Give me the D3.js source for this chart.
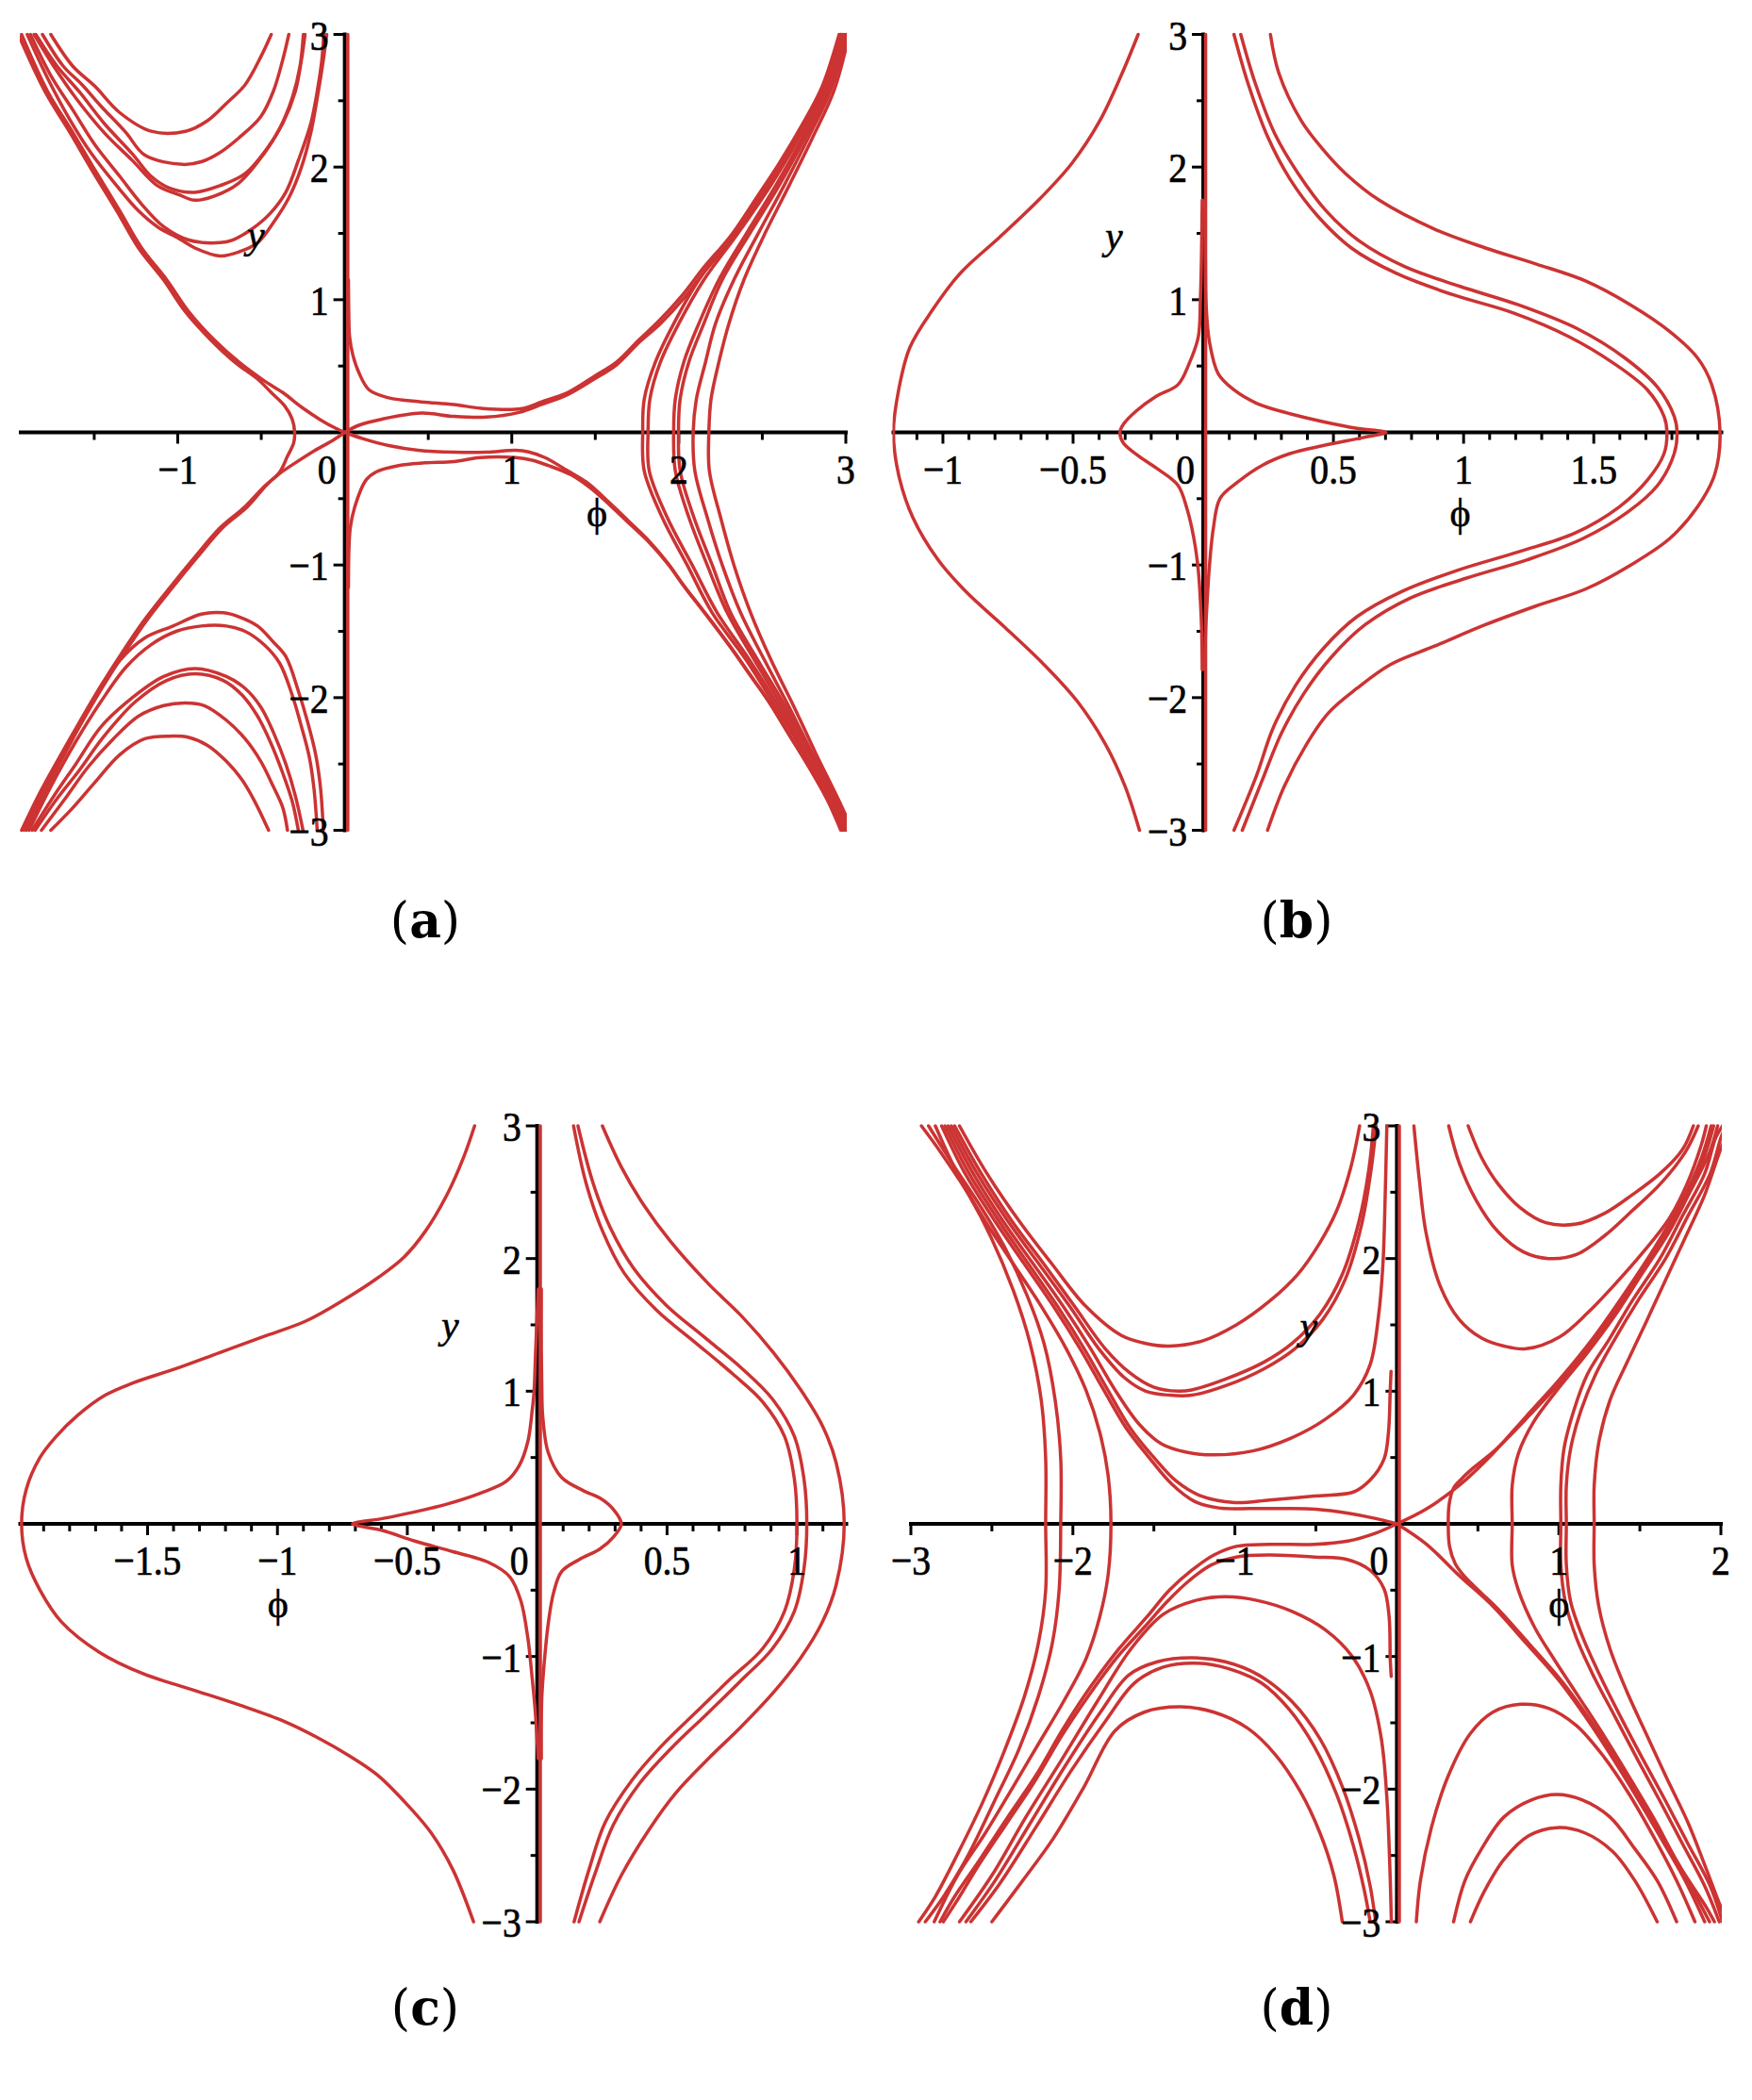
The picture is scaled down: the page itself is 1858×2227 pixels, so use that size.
<!DOCTYPE html>
<html><head><meta charset="utf-8">
<script src="https://cdn.jsdelivr.net/npm/d3@7"></script>
<style>body{margin:0;background:#fff}</style>
</head><body>
<svg id="chart" width="1858" height="2227" xmlns="http://www.w3.org/2000/svg"></svg>
<script>
// ---------------- shared tick data ----------------
const yMajor = [-3,-2,-1,1,2,3];
const yLabels = ["\u22123","\u22122","\u22121","1","2","3"];
const yMinor = [-2.5,-1.5,-0.5,0.5,1.5,2.5];

const aXMajor = [-1,0,1,2,3];
const aXLabels = ["\u22121","0","1","2","3"];
const aXMinor = [-1.5,-0.5,0.5,1.5,2.5];
const bXMajor = [-1,-0.5,0,0.5,1,1.5];
const bXLabels = ["\u22121","\u22120.5","0","0.5","1","1.5"];
const cXMajor = [-1.5,-1,-0.5,0,0.5,1];
const cXLabels = ["\u22121.5","\u22121","\u22120.5","0","0.5","1"];
const dXMajor = [-3,-2,-1,0,1,2];
const dXLabels = ["\u22123","\u22122","\u22121","0","1","2"];
const dXMinor = [-2.5,-1.5,-0.5,0.5,1.5];

// ---------------- panel (a) curves [phi, y] ----------------
const a_axisRed = [[0.018,3],[0.018,-3]];
const a_U1 = [[-1.76,3.0],[-1.628,2.76],[-1.497,2.61],[-1.347,2.41],[-1.159,2.27],[-0.953,2.27],[-0.822,2.35],[-0.709,2.48],[-0.597,2.62],[-0.503,2.83],[-0.44,3.0]];
const a_U2 = [[-1.81,3.0],[-1.685,2.76],[-1.572,2.62],[-1.46,2.46],[-1.31,2.26],[-1.197,2.09],[-0.972,2.02],[-0.859,2.04],[-0.747,2.11],[-0.634,2.22],[-0.503,2.38],[-0.428,2.57],[-0.371,2.81],[-0.335,3.0]];
const a_U3a = [[-1.85,3.0],[-1.722,2.76],[-1.591,2.57],[-1.441,2.33],[-1.272,2.10],[-1.159,1.93],[-1.047,1.84],[-0.897,1.81],[-0.747,1.86],[-0.597,1.95],[-0.465,2.14],[-0.371,2.33],[-0.296,2.57],[-0.259,2.81],[-0.238,3.0]];
const a_U3b = [[-1.86,3.0],[-1.732,2.74],[-1.61,2.52],[-1.441,2.26],[-1.272,2.05],[-1.122,1.86],[-0.991,1.79],[-0.897,1.75],[-0.784,1.78],[-0.634,1.88],[-0.484,2.10],[-0.39,2.29],[-0.315,2.52],[-0.268,2.76],[-0.248,3.0]];
const a_U4a = [[-1.882,3.0],[-1.76,2.69],[-1.628,2.43],[-1.497,2.17],[-1.347,1.93],[-1.216,1.72],[-1.084,1.55],[-0.934,1.45],[-0.747,1.43],[-0.672,1.45],[-0.559,1.53],[-0.447,1.65],[-0.353,1.81],[-0.278,2.05],[-0.203,2.33],[-0.165,2.57],[-0.137,2.81],[-0.126,3.0]];
const a_U4b = [[-1.901,3.0],[-1.779,2.67],[-1.647,2.36],[-1.516,2.10],[-1.366,1.86],[-1.235,1.67],[-1.122,1.55],[-0.991,1.46],[-0.897,1.39],[-0.747,1.33],[-0.634,1.36],[-0.522,1.43],[-0.428,1.58],[-0.334,1.77],[-0.259,2.0],[-0.203,2.26],[-0.165,2.52],[-0.128,2.81],[-0.108,3.0]];
const a_S1 = [[-1.935,3.0],[-1.779,2.57],[-1.628,2.26],[-1.497,1.98],[-1.347,1.67],[-1.216,1.39],[-1.066,1.15],[-0.934,0.91],[-0.784,0.70],[-0.634,0.53],[-0.484,0.39],[-0.371,0.30],[-0.259,0.19],[-0.146,0.095],[-0.053,0.03],[0,0]];
const a_S2 = [[-1.955,3.0],[-1.795,2.57],[-1.645,2.26],[-1.515,1.98],[-1.365,1.67],[-1.235,1.39],[-1.085,1.15],[-0.955,0.91],[-0.805,0.70],[-0.66,0.53],[-0.52,0.40],[-0.44,0.30],[-0.36,0.20],[-0.315,0.10],[-0.30,0],[-0.306,-0.08],[-0.343,-0.18],[-0.39,-0.30],[-0.484,-0.41],[-0.597,-0.56],[-0.747,-0.72],[-0.897,-0.94],[-1.047,-1.17],[-1.197,-1.41],[-1.328,-1.65],[-1.46,-1.91],[-1.591,-2.19],[-1.722,-2.48],[-1.835,-2.74],[-1.935,-3.0]];
const a_S3 = [[0,0],[-0.071,-0.06],[-0.184,-0.14],[-0.296,-0.23],[-0.40,-0.32],[-0.47,-0.40],[-0.582,-0.56],[-0.732,-0.72],[-0.882,-0.94],[-1.032,-1.17],[-1.182,-1.41],[-1.313,-1.65],[-1.445,-1.91],[-1.576,-2.19],[-1.707,-2.48],[-1.82,-2.74],[-1.92,-3.0]];
const a_L1a = [[-1.905,-3.0],[-1.779,-2.67],[-1.628,-2.31],[-1.497,-2.0],[-1.347,-1.72],[-1.197,-1.55],[-1.028,-1.46],[-0.859,-1.37],[-0.728,-1.36],[-0.634,-1.39],[-0.522,-1.46],[-0.428,-1.58],[-0.353,-1.69],[-0.278,-1.95],[-0.221,-2.19],[-0.174,-2.43],[-0.146,-2.67],[-0.128,-3.0]];
const a_L1b = [[-1.89,-3.0],[-1.76,-2.67],[-1.61,-2.33],[-1.46,-2.03],[-1.31,-1.77],[-1.159,-1.60],[-1.009,-1.50],[-0.859,-1.46],[-0.709,-1.46],[-0.597,-1.50],[-0.484,-1.60],[-0.39,-1.74],[-0.315,-1.98],[-0.259,-2.22],[-0.212,-2.45],[-0.184,-2.69],[-0.165,-3.0]];
const a_L2a = [[-1.872,-3.0],[-1.741,-2.74],[-1.61,-2.50],[-1.46,-2.22],[-1.272,-2.0],[-1.084,-1.84],[-0.897,-1.78],[-0.709,-1.84],[-0.597,-1.93],[-0.503,-2.07],[-0.428,-2.26],[-0.353,-2.50],[-0.296,-2.74],[-0.25,-3.0]];
const a_L2b = [[-1.854,-3.0],[-1.722,-2.76],[-1.591,-2.55],[-1.441,-2.29],[-1.253,-2.03],[-1.066,-1.87],[-0.897,-1.82],[-0.728,-1.87],[-0.615,-1.98],[-0.522,-2.14],[-0.447,-2.33],[-0.371,-2.57],[-0.315,-2.78],[-0.278,-3.0]];
const a_L3 = [[-1.816,-3.0],[-1.685,-2.78],[-1.535,-2.52],[-1.385,-2.31],[-1.235,-2.14],[-1.084,-2.06],[-0.953,-2.04],[-0.841,-2.06],[-0.709,-2.17],[-0.597,-2.31],[-0.503,-2.48],[-0.428,-2.67],[-0.371,-2.83],[-0.343,-3.0]];
const a_L4 = [[-1.76,-3.0],[-1.628,-2.83],[-1.497,-2.64],[-1.347,-2.43],[-1.197,-2.31],[-1.047,-2.29],[-0.934,-2.30],[-0.822,-2.36],[-0.709,-2.48],[-0.615,-2.62],[-0.54,-2.78],[-0.456,-3.0]];
const a_C1 = [[0.022,1.15],[0.024,0.9],[0.029,0.72],[0.049,0.58],[0.088,0.44],[0.146,0.32],[0.263,0.26],[0.458,0.23],[0.653,0.21],[0.828,0.18],[1.062,0.18],[1.179,0.23],[1.335,0.30],[1.491,0.42],[1.628,0.53],[1.764,0.70],[1.881,0.84],[2.018,1.03],[2.154,1.25],[2.31,1.48],[2.466,1.77],[2.602,2.03],[2.739,2.32],[2.856,2.60],[2.96,3.0]];
const a_C2 = [[0,0],[0.088,0.055],[0.224,0.10],[0.458,0.145],[0.653,0.12],[0.848,0.115],[1.043,0.15],[1.179,0.21],[1.335,0.285],[1.491,0.40],[1.628,0.51],[1.764,0.68],[1.89,0.82],[2.03,1.01],[2.165,1.23],[2.32,1.46],[2.476,1.75],[2.612,2.01],[2.749,2.30],[2.866,2.58],[2.97,3.0]];
const a_C3 = [[0.022,-1.17],[0.025,-0.88],[0.033,-0.72],[0.058,-0.57],[0.127,-0.36],[0.185,-0.30],[0.322,-0.25],[0.478,-0.23],[0.653,-0.22],[0.809,-0.19],[1.023,-0.19],[1.121,-0.21],[1.218,-0.25],[1.355,-0.32],[1.472,-0.42],[1.589,-0.55],[1.706,-0.69],[1.823,-0.83],[1.94,-1.0],[2.037,-1.17],[2.154,-1.36],[2.31,-1.62],[2.427,-1.83],[2.544,-2.04],[2.661,-2.28],[2.778,-2.52],[2.895,-2.78],[2.98,-3.0]];
const a_C4 = [[0,0],[0.107,-0.047],[0.263,-0.10],[0.439,-0.135],[0.653,-0.15],[0.848,-0.15],[1.023,-0.135],[1.101,-0.147],[1.199,-0.19],[1.335,-0.29],[1.452,-0.38],[1.58,-0.525],[1.70,-0.67],[1.815,-0.81],[1.93,-0.98],[2.027,-1.15],[2.144,-1.34],[2.30,-1.60],[2.417,-1.81],[2.534,-2.02],[2.651,-2.26],[2.768,-2.50],[2.885,-2.76],[2.97,-3.0]];
// right-hand family: y levels and phi positions of each contour at those levels
const aRightY = [3.0,2.58,2.22,1.86,1.51,1.15,0.82,0.53,0.25,0,-0.29,-0.64,-1.0,-1.36,-1.71,-2.07,-2.42,-2.78,-3.0];
const a_R1 = [2.97,2.86,2.71,2.53,2.34,2.12,1.97,1.86,1.793,1.784,1.793,1.90,2.05,2.20,2.40,2.58,2.75,2.91,2.99];
const a_R2 = [2.98,2.87,2.72,2.55,2.36,2.15,2.00,1.89,1.827,1.816,1.823,1.93,2.08,2.23,2.42,2.60,2.76,2.92,3.0];
const a_R3 = [2.99,2.885,2.74,2.58,2.41,2.24,2.12,2.03,1.979,1.969,1.979,2.06,2.17,2.29,2.45,2.62,2.78,2.93,3.01];
const a_R4 = [3.0,2.895,2.755,2.60,2.43,2.26,2.15,2.06,2.008,1.998,2.008,2.09,2.20,2.31,2.47,2.64,2.79,2.94,3.02];
const a_R5 = [3.01,2.91,2.775,2.63,2.48,2.33,2.22,2.16,2.105,2.086,2.096,2.17,2.26,2.37,2.51,2.66,2.80,2.95,3.03];
const a_R6 = [3.02,2.93,2.80,2.66,2.52,2.39,2.30,2.24,2.193,2.18,2.183,2.25,2.33,2.43,2.55,2.69,2.82,2.96,3.04];

// ---------------- panel (b) curves ----------------
const b_axisRed = [[0.009,3],[0.009,-3]];
const b_left = [[-0.25,3.0],[-0.311,2.71],[-0.397,2.35],[-0.504,2.03],[-0.633,1.75],[-0.783,1.47],[-0.933,1.20],[-1.041,0.92],[-1.127,0.64],[-1.17,0.32],[-1.19,0],[-1.17,-0.32],[-1.116,-0.64],[-1.019,-0.96],[-0.912,-1.20],[-0.762,-1.47],[-0.612,-1.75],[-0.483,-2.03],[-0.376,-2.35],[-0.30,-2.67],[-0.245,-3.0]];
const b_inner = [[0.118,3.0],[0.172,2.63],[0.247,2.23],[0.333,1.91],[0.44,1.63],[0.569,1.39],[0.74,1.20],[0.955,1.04],[1.191,0.90],[1.406,0.72],[1.577,0.52],[1.706,0.32],[1.77,0.12],[1.781,0],[1.77,-0.16],[1.706,-0.36],[1.599,-0.56],[1.427,-0.76],[1.212,-0.90],[0.976,-1.04],[0.762,-1.20],[0.59,-1.39],[0.461,-1.63],[0.354,-1.91],[0.268,-2.23],[0.204,-2.59],[0.118,-3.0]];
const b_mid = [[0.144,3.0],[0.20,2.63],[0.275,2.25],[0.365,1.95],[0.472,1.67],[0.601,1.44],[0.773,1.25],[0.987,1.10],[1.212,0.96],[1.438,0.78],[1.62,0.56],[1.745,0.34],[1.809,0.12],[1.82,0],[1.809,-0.16],[1.745,-0.40],[1.631,-0.60],[1.459,-0.80],[1.245,-0.96],[1.009,-1.10],[0.794,-1.25],[0.622,-1.45],[0.494,-1.69],[0.386,-1.97],[0.30,-2.27],[0.225,-2.63],[0.15,-3.0]];
const b_outer = [[0.258,3.0],[0.29,2.71],[0.376,2.35],[0.461,2.13],[0.547,1.95],[0.676,1.75],[0.891,1.53],[1.084,1.39],[1.277,1.27],[1.47,1.14],[1.642,0.96],[1.792,0.76],[1.899,0.56],[1.953,0.36],[1.985,0],[1.964,-0.32],[1.899,-0.56],[1.792,-0.80],[1.642,-1.0],[1.47,-1.18],[1.277,-1.31],[1.084,-1.45],[0.891,-1.61],[0.719,-1.75],[0.59,-1.93],[0.483,-2.11],[0.397,-2.35],[0.311,-2.67],[0.247,-3.0]];
const b_spikeL = [[-0.004,1.75],[-0.007,1.3],[-0.011,1.0],[-0.019,0.72],[-0.054,0.52],[-0.097,0.36],[-0.182,0.27],[-0.258,0.16],[-0.307,0.06],[-0.32,0],[-0.307,-0.08],[-0.247,-0.18],[-0.172,-0.28],[-0.097,-0.40],[-0.062,-0.58],[-0.036,-0.80],[-0.019,-1.04],[-0.011,-1.27],[-0.006,-1.5],[-0.004,-1.79]];
const b_spikeR = [[0.006,1.75],[0.008,1.3],[0.011,0.96],[0.024,0.68],[0.058,0.44],[0.118,0.32],[0.204,0.22],[0.333,0.14],[0.461,0.08],[0.59,0.03],[0.702,0],[0.612,-0.04],[0.461,-0.10],[0.333,-0.16],[0.225,-0.25],[0.129,-0.38],[0.064,-0.50],[0.039,-0.72],[0.024,-1.0],[0.015,-1.27],[0.009,-1.5],[0.006,-1.79]];

// ---------------- panel (c) curves ----------------
const c_axisRed = [[0.012,3],[0.012,-3]];
const c_left = [[-0.241,3.0],[-0.282,2.77],[-0.345,2.49],[-0.429,2.21],[-0.513,2.01],[-0.617,1.85],[-0.743,1.69],[-0.889,1.53],[-1.056,1.41],[-1.224,1.29],[-1.391,1.17],[-1.559,1.06],[-1.663,0.97],[-1.768,0.82],[-1.851,0.66],[-1.914,0.50],[-1.967,0.26],[-1.985,0],[-1.967,-0.26],[-1.914,-0.50],[-1.831,-0.74],[-1.684,-0.97],[-1.517,-1.13],[-1.328,-1.25],[-1.14,-1.37],[-0.973,-1.49],[-0.847,-1.61],[-0.722,-1.75],[-0.617,-1.89],[-0.513,-2.09],[-0.408,-2.33],[-0.324,-2.61],[-0.245,-3.0]];
const c_inner = [[0.14,3.0],[0.188,2.57],[0.251,2.21],[0.335,1.89],[0.46,1.61],[0.607,1.37],[0.753,1.13],[0.868,0.92],[0.952,0.66],[0.99,0.34],[1.0,0],[0.99,-0.34],[0.952,-0.66],[0.868,-0.94],[0.743,-1.17],[0.617,-1.41],[0.481,-1.67],[0.366,-1.93],[0.262,-2.25],[0.199,-2.61],[0.142,-3.0]];
const c_mid = [[0.157,3.0],[0.215,2.57],[0.282,2.23],[0.37,1.93],[0.496,1.65],[0.642,1.41],[0.789,1.17],[0.906,0.94],[0.99,0.66],[1.027,0.34],[1.038,0],[1.027,-0.34],[0.99,-0.66],[0.906,-0.94],[0.78,-1.19],[0.655,-1.43],[0.517,-1.69],[0.397,-1.95],[0.293,-2.27],[0.224,-2.63],[0.161,-3.0]];
const c_outer = [[0.251,3.0],[0.324,2.69],[0.408,2.41],[0.513,2.13],[0.659,1.81],[0.785,1.57],[0.91,1.29],[1.015,1.01],[1.098,0.74],[1.151,0.46],[1.182,0],[1.151,-0.46],[1.098,-0.74],[1.015,-1.01],[0.91,-1.27],[0.785,-1.53],[0.659,-1.77],[0.533,-2.03],[0.429,-2.31],[0.324,-2.65],[0.241,-3.0]];
const c_spikeL = [[0.004,1.77],[-0.006,1.3],[-0.012,1.0],[-0.019,0.86],[-0.036,0.62],[-0.069,0.44],[-0.119,0.32],[-0.22,0.23],[-0.345,0.15],[-0.471,0.09],[-0.596,0.04],[-0.711,0],[-0.596,-0.05],[-0.471,-0.13],[-0.324,-0.21],[-0.188,-0.29],[-0.105,-0.40],[-0.063,-0.58],[-0.036,-0.86],[-0.021,-1.13],[-0.008,-1.4],[0.004,-1.77]];
const c_spikeR = [[0.016,1.77],[0.016,1.3],[0.018,1.0],[0.021,0.82],[0.042,0.54],[0.094,0.35],[0.178,0.25],[0.245,0.19],[0.293,0.11],[0.324,0],[0.293,-0.10],[0.241,-0.19],[0.161,-0.27],[0.094,-0.36],[0.063,-0.52],[0.042,-0.76],[0.027,-1.05],[0.018,-1.3],[0.016,-1.5],[0.016,-1.77]];

// ---------------- panel (d) curves ----------------
const d_axisRed = [[0.015,3],[0.015,-3]];
const d_L1 = [[-2.935,3.0],[-2.815,2.80],[-2.643,2.48],[-2.505,2.16],[-2.368,1.76],[-2.264,1.36],[-2.195,0.93],[-2.168,0.49],[-2.168,0],[-2.168,-0.5],[-2.213,-0.90],[-2.299,-1.30],[-2.419,-1.70],[-2.557,-2.10],[-2.712,-2.49],[-2.849,-2.81],[-2.952,-3.0]];
const d_L2 = [[-2.891,3.0],[-2.746,2.72],[-2.574,2.40],[-2.419,2.08],[-2.282,1.72],[-2.178,1.36],[-2.109,0.93],[-2.075,0.49],[-2.075,0],[-2.085,-0.5],[-2.127,-0.90],[-2.213,-1.30],[-2.333,-1.70],[-2.488,-2.10],[-2.643,-2.49],[-2.798,-2.81],[-2.911,-3.0]];
const d_L3 = [[-2.849,3.0],[-2.712,2.64],[-2.54,2.28],[-2.368,1.96],[-2.195,1.64],[-2.041,1.32],[-1.92,1.01],[-1.834,0.69],[-1.783,0.37],[-1.765,0],[-1.783,-0.39],[-1.834,-0.70],[-1.92,-1.02],[-2.058,-1.34],[-2.213,-1.66],[-2.368,-1.98],[-2.54,-2.33],[-2.712,-2.65],[-2.856,-3.0]];
const d_S2 = [[-2.81,3.0],[-2.665,2.64],[-2.48,2.28],[-2.30,1.96],[-2.12,1.64],[-1.955,1.32],[-1.81,1.01],[-1.67,0.72],[-1.53,0.50],[-1.39,0.30],[-1.25,0.17],[-1.10,0.12],[-0.90,0.115],[-0.70,0.115],[-0.50,0.11],[-0.30,0.08],[-0.13,0.04],[0,0]];
const d_S1 = [[-2.79,3.0],[-2.64,2.64],[-2.455,2.28],[-2.275,1.96],[-2.095,1.64],[-1.93,1.32],[-1.785,1.01],[-1.645,0.72],[-1.50,0.50],[-1.36,0.32],[-1.21,0.21],[-1.0,0.16],[-0.785,0.18],[-0.509,0.21],[-0.268,0.24],[-0.165,0.33],[-0.079,0.49],[-0.052,0.69],[-0.041,1.01],[-0.036,1.15]];
const d_U3 = [[-2.77,3.0],[-2.615,2.64],[-2.43,2.28],[-2.245,1.96],[-2.06,1.64],[-1.89,1.32],[-1.74,1.01],[-1.59,0.75],[-1.45,0.60],[-1.30,0.54],[-1.129,0.52],[-0.888,0.55],[-0.647,0.65],[-0.44,0.79],[-0.268,0.97],[-0.165,1.20],[-0.114,1.56],[-0.086,1.96],[-0.072,2.48],[-0.062,3.0]];
const d_U2b = [[-2.75,3.0],[-2.59,2.64],[-2.40,2.28],[-2.21,1.96],[-2.02,1.64],[-1.84,1.32],[-1.68,1.10],[-1.55,1.0],[-1.40,0.97],[-1.266,0.97],[-1.06,1.04],[-0.819,1.17],[-0.63,1.32],[-0.458,1.54],[-0.32,1.84],[-0.217,2.26],[-0.158,2.68],[-0.128,3.0]];
const d_U2a = [[-2.73,3.0],[-2.565,2.64],[-2.375,2.28],[-2.18,1.96],[-1.99,1.64],[-1.80,1.32],[-1.65,1.14],[-1.50,1.03],[-1.35,1.0],[-1.266,1.01],[-1.06,1.09],[-0.819,1.22],[-0.647,1.36],[-0.475,1.58],[-0.337,1.88],[-0.234,2.28],[-0.172,2.68],[-0.145,3.0]];
const d_U1 = [[-2.70,3.0],[-2.53,2.64],[-2.33,2.28],[-2.13,1.96],[-1.92,1.64],[-1.70,1.42],[-1.55,1.36],[-1.404,1.34],[-1.198,1.38],[-0.991,1.50],[-0.785,1.68],[-0.613,1.88],[-0.475,2.12],[-0.372,2.36],[-0.286,2.68],[-0.23,3.0]];
const d_S3 = [[0,0],[-0.131,-0.07],[-0.303,-0.13],[-0.509,-0.155],[-0.785,-0.155],[-0.991,-0.17],[-1.129,-0.235],[-1.266,-0.35],[-1.404,-0.50],[-1.542,-0.70],[-1.714,-0.94],[-1.886,-1.22],[-2.058,-1.54],[-2.23,-1.90],[-2.402,-2.21],[-2.574,-2.53],[-2.73,-2.81],[-2.82,-3.0]];
const d_S4 = [[-0.035,-1.15],[-0.041,-1.02],[-0.048,-0.70],[-0.079,-0.49],[-0.165,-0.35],[-0.303,-0.27],[-0.509,-0.25],[-0.785,-0.235],[-0.991,-0.25],[-1.146,-0.31],[-1.284,-0.43],[-1.421,-0.59],[-1.56,-0.78],[-1.73,-1.01],[-1.90,-1.29],[-2.07,-1.60],[-2.24,-1.95],[-2.41,-2.26],[-2.58,-2.57],[-2.72,-2.85],[-2.80,-3.0]];
const d_N1 = [[-2.70,-3.0],[-2.50,-2.65],[-2.29,-2.21],[-2.07,-1.78],[-1.85,-1.34],[-1.64,-0.94],[-1.44,-0.68],[-1.25,-0.58],[-1.06,-0.55],[-0.853,-0.58],[-0.647,-0.66],[-0.44,-0.80],[-0.275,-1.0],[-0.165,-1.26],[-0.096,-1.62],[-0.062,-2.06],[-0.045,-2.53],[-0.034,-3.0]];
const d_N2a = [[-2.66,-3.0],[-2.48,-2.69],[-2.26,-2.25],[-2.045,-1.82],[-1.83,-1.42],[-1.655,-1.14],[-1.478,-1.04],[-1.266,-1.01],[-1.06,-1.04],[-0.853,-1.14],[-0.647,-1.34],[-0.475,-1.62],[-0.337,-1.98],[-0.234,-2.37],[-0.165,-2.73],[-0.131,-3.0]];
const d_N2b = [[-2.63,-3.0],[-2.45,-2.71],[-2.23,-2.29],[-2.01,-1.86],[-1.795,-1.48],[-1.62,-1.20],[-1.442,-1.08],[-1.249,-1.05],[-1.043,-1.09],[-0.836,-1.20],[-0.664,-1.40],[-0.509,-1.68],[-0.372,-2.04],[-0.268,-2.43],[-0.20,-2.77],[-0.165,-3.0]];
const d_N3 = [[-2.50,-3.0],[-2.31,-2.69],[-2.12,-2.37],[-1.93,-1.98],[-1.74,-1.56],[-1.56,-1.42],[-1.335,-1.38],[-1.129,-1.42],[-0.922,-1.54],[-0.75,-1.74],[-0.595,-2.02],[-0.475,-2.33],[-0.389,-2.65],[-0.337,-3.0]];
const d_sepUR = [[0,0],[0.179,0.11],[0.385,0.29],[0.592,0.53],[0.798,0.81],[1.005,1.09],[1.211,1.40],[1.418,1.76],[1.59,2.08],[1.762,2.44],[1.88,2.76],[1.94,3.0]];
const d_sepLR = [[0,0],[0.179,-0.15],[0.385,-0.39],[0.592,-0.62],[0.798,-0.90],[1.0,-1.18],[1.19,-1.50],[1.36,-1.82],[1.52,-2.14],[1.65,-2.41],[1.78,-2.69],[1.90,-3.0]];
const d_turn = [[1.955,3.0],[1.895,2.76],[1.775,2.44],[1.605,2.08],[1.435,1.76],[1.23,1.40],[1.025,1.09],[0.82,0.82],[0.61,0.56],[0.47,0.42],[0.40,0.34],[0.35,0.27],[0.323,0.15],[0.317,0],[0.325,-0.17],[0.36,-0.30],[0.42,-0.40],[0.52,-0.52],[0.63,-0.65],[0.82,-0.91],[1.02,-1.19],[1.21,-1.51],[1.38,-1.83],[1.54,-2.15],[1.67,-2.42],[1.80,-2.70],[1.93,-3.0]];
const d_H1 = [[1.98,3.0],[1.93,2.80],[1.80,2.48],[1.68,2.20],[1.51,1.88],[1.34,1.56],[1.17,1.28],[0.99,1.01],[0.845,0.77],[0.75,0.53],[0.712,0.29],[0.712,0],[0.712,-0.31],[0.75,-0.50],[0.85,-0.78],[0.97,-1.02],[1.12,-1.30],[1.29,-1.62],[1.45,-1.94],[1.60,-2.25],[1.74,-2.57],[1.91,-2.89],[1.96,-3.0]];
const d_H2 = [[2.01,3.0],[1.968,2.91],[1.90,2.64],[1.762,2.32],[1.624,2.0],[1.452,1.68],[1.315,1.40],[1.177,1.13],[1.091,0.85],[1.032,0.57],[1.012,0.29],[1.012,0],[1.012,-0.31],[1.04,-0.59],[1.108,-0.86],[1.211,-1.14],[1.349,-1.46],[1.487,-1.78],[1.624,-2.09],[1.762,-2.41],[1.90,-2.73],[1.99,-3.0]];
const d_H3 = [[2.03,3.0],[2.0,2.91],[1.934,2.64],[1.796,2.32],[1.659,2.0],[1.487,1.68],[1.349,1.40],[1.228,1.13],[1.135,0.85],[1.073,0.57],[1.046,0.29],[1.046,0],[1.046,-0.31],[1.073,-0.59],[1.149,-0.86],[1.252,-1.14],[1.383,-1.46],[1.521,-1.78],[1.659,-2.09],[1.796,-2.41],[1.934,-2.73],[2.01,-3.0]];
const d_H4 = [[2.06,3.0],[2.003,2.84],[1.90,2.48],[1.796,2.20],[1.659,1.84],[1.538,1.52],[1.418,1.21],[1.315,0.93],[1.246,0.61],[1.218,0.29],[1.218,0],[1.218,-0.31],[1.246,-0.62],[1.315,-0.94],[1.418,-1.26],[1.538,-1.58],[1.659,-1.90],[1.796,-2.25],[1.90,-2.57],[2.0,-2.89],[2.04,-3.0]];
const d_RU1 = [[0.44,3.0],[0.523,2.76],[0.626,2.56],[0.764,2.38],[0.919,2.27],[1.108,2.26],[1.28,2.34],[1.452,2.48],[1.624,2.64],[1.762,2.82],[1.83,3.0]];
const d_RU2 = [[0.32,3.0],[0.385,2.72],[0.489,2.44],[0.626,2.20],[0.781,2.05],[0.936,2.0],[1.108,2.03],[1.28,2.17],[1.452,2.36],[1.624,2.56],[1.779,2.80],[1.86,3.0]];
const d_RU3 = [[0.105,3.0],[0.138,2.60],[0.179,2.20],[0.265,1.80],[0.385,1.54],[0.523,1.40],[0.661,1.34],[0.798,1.32],[1.005,1.41],[1.177,1.59],[1.349,1.81],[1.521,2.05],[1.68,2.30],[1.79,2.56],[1.88,2.86],[1.91,3.0]];
const d_RL1 = [[0.12,-3.0],[0.145,-2.69],[0.213,-2.29],[0.317,-1.90],[0.454,-1.58],[0.592,-1.42],[0.764,-1.36],[0.936,-1.39],[1.108,-1.52],[1.28,-1.76],[1.435,-2.04],[1.59,-2.37],[1.727,-2.69],[1.84,-3.0]];
const d_RL2 = [[0.35,-3.0],[0.42,-2.69],[0.523,-2.45],[0.661,-2.21],[0.833,-2.08],[0.988,-2.04],[1.142,-2.08],[1.315,-2.21],[1.469,-2.45],[1.607,-2.69],[1.727,-3.0]];
const d_RL3 = [[0.454,-3.0],[0.54,-2.77],[0.661,-2.53],[0.816,-2.35],[0.988,-2.29],[1.16,-2.33],[1.332,-2.47],[1.469,-2.69],[1.607,-3.0]];

// ---------------- drawing ----------------
const zip = (xs, ys) => xs.map((v, i) => [v, ys[i]]);
const aRight = [a_R1, a_R2, a_R3, a_R4, a_R5, a_R6].map(r => zip(r, aRightY));

const panels = [
  {id:'a', xDomain:[-1.94,3], xRange:[22,897], yRange:[880.5,36.5],
   xMajor:aXMajor, xLabels:aXLabels, xMinor:aXMinor,
   yLab:[-0.532,1.44], phiLab:[1.51,-0.62], cap:[451,994],
   curves:[a_axisRed,a_U1,a_U2,a_U3a,a_U3b,a_U4a,a_U4b,a_S1,a_S2,a_S3,a_L1a,a_L1b,a_L2a,a_L2b,a_L3,a_L4,a_C1,a_C2,a_C3,a_C4,...aRight]},
  {id:'b', xDomain:[-1.19,1.99], xRange:[947.5,1825.5], yRange:[880.5,36.5],
   xMajor:bXMajor, xLabels:bXLabels, xMinor:d3.range(-11,20).map(i=>i/10).filter(v=>Math.abs(v*2-Math.round(v*2))>1e-6),
   yLab:[-0.343,1.43], phiLab:[0.987,-0.62], cap:[1375,994],
   curves:[b_axisRed,b_left,b_inner,b_mid,b_outer,b_spikeL,b_spikeR]},
  {id:'c', xDomain:[-1.99,1.19], xRange:[21.5,897.5], yRange:[2038,1194],
   xMajor:cXMajor, xLabels:cXLabels, xMinor:d3.range(-19,12).map(i=>i/10).filter(v=>Math.abs(v*2-Math.round(v*2))>1e-6),
   yLab:[-0.335,1.45], phiLab:[-0.998,-0.62], cap:[451,2147],
   curves:[c_axisRed,c_left,c_inner,c_mid,c_outer,c_spikeL,c_spikeR]},
  {id:'d', xDomain:[-3,2], xRange:[966,1825], yRange:[2038,1194],
   xMajor:dXMajor, xLabels:dXLabels, xMinor:dXMinor,
   yLab:[-0.544,1.44], phiLab:[1.0,-0.62], cap:[1375,2147],
   curves:[d_axisRed,d_L1,d_L2,d_L3,d_S1,d_S2,d_U1,d_U2a,d_U2b,d_U3,d_S3,d_S4,d_N1,d_N2a,d_N2b,d_N3,
           d_sepUR,d_sepLR,d_turn,d_H1,d_H2,d_H3,d_H4,d_RU1,d_RU2,d_RU3,d_RL1,d_RL2,d_RL3]}
];

const svg = d3.select('#chart');
svg.append('rect').attr('width',1858).attr('height',2227).attr('fill','#fff');
const defs = svg.append('defs');
const RED = '#cc3333';
const TICKFONT = "'Liberation Serif','Times New Roman',serif";

panels.forEach(p => {
  const x = d3.scaleLinear().domain(p.xDomain).range(p.xRange);
  const y = d3.scaleLinear().domain([-3,3]).range(p.yRange);
  const g = svg.append('g');
  const x0 = x(0), y0 = y(0);
  const top = y(3), bot = y(-3);

  defs.append('clipPath').attr('id','clip-'+p.id).append('rect')
    .attr('x', p.xRange[0]-1).attr('y', top-2)
    .attr('width', p.xRange[1]-p.xRange[0]+2).attr('height', bot-top+4);

  // axes
  const ax = g.append('g').attr('stroke','#000').attr('stroke-width',4).attr('stroke-linecap','square');
  ax.append('line').attr('x1',p.xRange[0]).attr('x2',p.xRange[1]).attr('y1',y0).attr('y2',y0);
  ax.append('line').attr('x1',x0).attr('x2',x0).attr('y1',top).attr('y2',bot);
  const tk = g.append('g').attr('stroke','#000').attr('stroke-width',3);
  p.xMajor.forEach(v => tk.append('line').attr('x1',x(v)).attr('x2',x(v)).attr('y1',y0).attr('y2',y0+12));
  p.xMinor.forEach(v => tk.append('line').attr('x1',x(v)).attr('x2',x(v)).attr('y1',y0).attr('y2',y0+8));
  yMajor.forEach(v => tk.append('line').attr('x1',x0-12).attr('x2',x0).attr('y1',y(v)).attr('y2',y(v)));
  yMinor.forEach(v => tk.append('line').attr('x1',x0-7).attr('x2',x0).attr('y1',y(v)).attr('y2',y(v)));

  // curves
  const line = d3.line().x(d => x(d[0])).y(d => y(d[1])).curve(d3.curveCatmullRom.alpha(0.5));
  g.append('g').attr('clip-path','url(#clip-'+p.id+')')
    .selectAll('path').data(p.curves).join('path')
    .attr('d', line).attr('fill','none').attr('stroke',RED)
    .attr('stroke-width',3.5).attr('stroke-linejoin','round').attr('stroke-linecap','round');

  // tick labels
  const tl = g.append('g').attr('font-family',TICKFONT).attr('font-size',45).attr('fill','#000')
    .attr('stroke','#000').attr('stroke-width',0.7);
  p.xMajor.forEach((v,i) => {
    const px = v === 0 ? x0 - 19 : x(v);
    tl.append('text').attr('transform',`translate(${px},${y0+54}) scale(0.88,1)`)
      .attr('text-anchor','middle').text(p.xLabels[i]);
  });
  yMajor.forEach((v,i) => {
    tl.append('text').attr('transform',`translate(${x0-17},${y(v)+16}) scale(0.88,1)`)
      .attr('text-anchor','end').text(yLabels[i]);
  });
  // axis names
  g.append('text').attr('x',x(p.yLab[0])).attr('y',y(p.yLab[1])+7)
    .attr('text-anchor','middle').attr('font-family',TICKFONT).attr('font-style','italic')
    .attr('font-size',42).attr('stroke','#000').attr('stroke-width',0.5).text('y');
  g.append('text').attr('x',x(p.phiLab[0])).attr('y',y(p.phiLab[1])+12)
    .attr('text-anchor','middle').attr('font-family',TICKFONT)
    .attr('font-size',42).attr('stroke','#000').attr('stroke-width',0.5).text('\u03D5');
  // caption
  const cap = svg.append('text').attr('x',p.cap[0]).attr('y',p.cap[1])
    .attr('text-anchor','middle').attr('font-family',"'DejaVu Serif',serif").attr('font-size',52);
  cap.append('tspan').text('(');
  cap.append('tspan').attr('font-weight','bold').text(p.id);
  cap.append('tspan').text(')');
});
</script>
</body></html>
